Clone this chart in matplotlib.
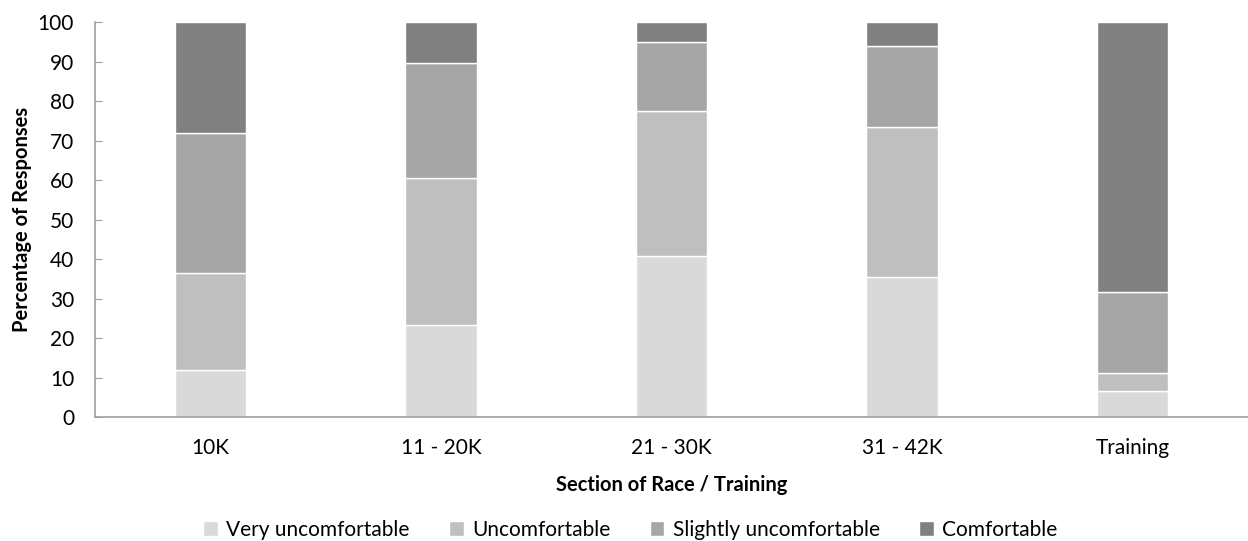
import numpy as np
import matplotlib
matplotlib.use("Agg")
import matplotlib.pyplot as plt

# Survey data: share of responses per comfort level
sections = ["10K", "11 - 20K", "21 - 30K", "31 - 42K", "Training"]
levels = ["Very uncomfortable", "Uncomfortable", "Slightly uncomfortable", "Comfortable"]
very_uncomfortable = [12.0, 23.3, 40.8, 35.4, 6.6]
uncomfortable = [24.5, 37.2, 36.7, 38.0, 4.5]
slightly_uncomfortable = [35.5, 29.1, 17.5, 20.5, 20.5]
comfortable = [28.0, 10.4, 5.0, 6.1, 68.4]

colors = ["#d9d9d9", "#bfbfbf", "#a6a6a6", "#808080"]

plt.rcParams["font.family"] = ["Lato", "DejaVu Sans"]

fig = plt.figure(figsize=(12.48, 5.41), dpi=100)
ax = fig.add_axes([0.0761, 0.2292, 0.9239, 0.7301])

x = np.arange(len(sections))
bottom = np.zeros(len(sections))
for name, vals, c in zip(levels,
                         [very_uncomfortable, uncomfortable, slightly_uncomfortable, comfortable],
                         colors):
    vals = np.array(vals)
    ax.bar(x, vals, 0.31, bottom=bottom, color=c, edgecolor="white", linewidth=1.0, label=name)
    bottom += vals

ax.set_xlim(-0.5, 4.5)
ax.set_ylim(0, 100)
ax.set_yticks(range(0, 101, 10))
ax.set_xticks(x)
ax.set_xticklabels(sections, fontsize=15)
ax.tick_params(axis="y", labelsize=15, color="#a0a0a0", direction="in", length=5, pad=15)
ax.tick_params(axis="x", length=0, pad=15)

for side in ["top", "right"]:
    ax.spines[side].set_visible(False)
for side in ["left", "bottom"]:
    ax.spines[side].set_color("#a0a0a0")
    ax.spines[side].set_linewidth(1.2)

ax.set_ylabel("Percentage of Responses", fontsize=14.5, fontweight="bold", labelpad=4)
ax.set_xlabel("Section of Race / Training", fontsize=14.5, fontweight="bold", labelpad=12)

fig.legend(loc="center", bbox_to_anchor=(0.505, 0.021), ncol=4, frameon=False,
           fontsize=15, handlelength=0.7, handleheight=0.7, handletextpad=0.4,
           columnspacing=1.9, borderpad=0)

fig.savefig("out.png", dpi=100)
